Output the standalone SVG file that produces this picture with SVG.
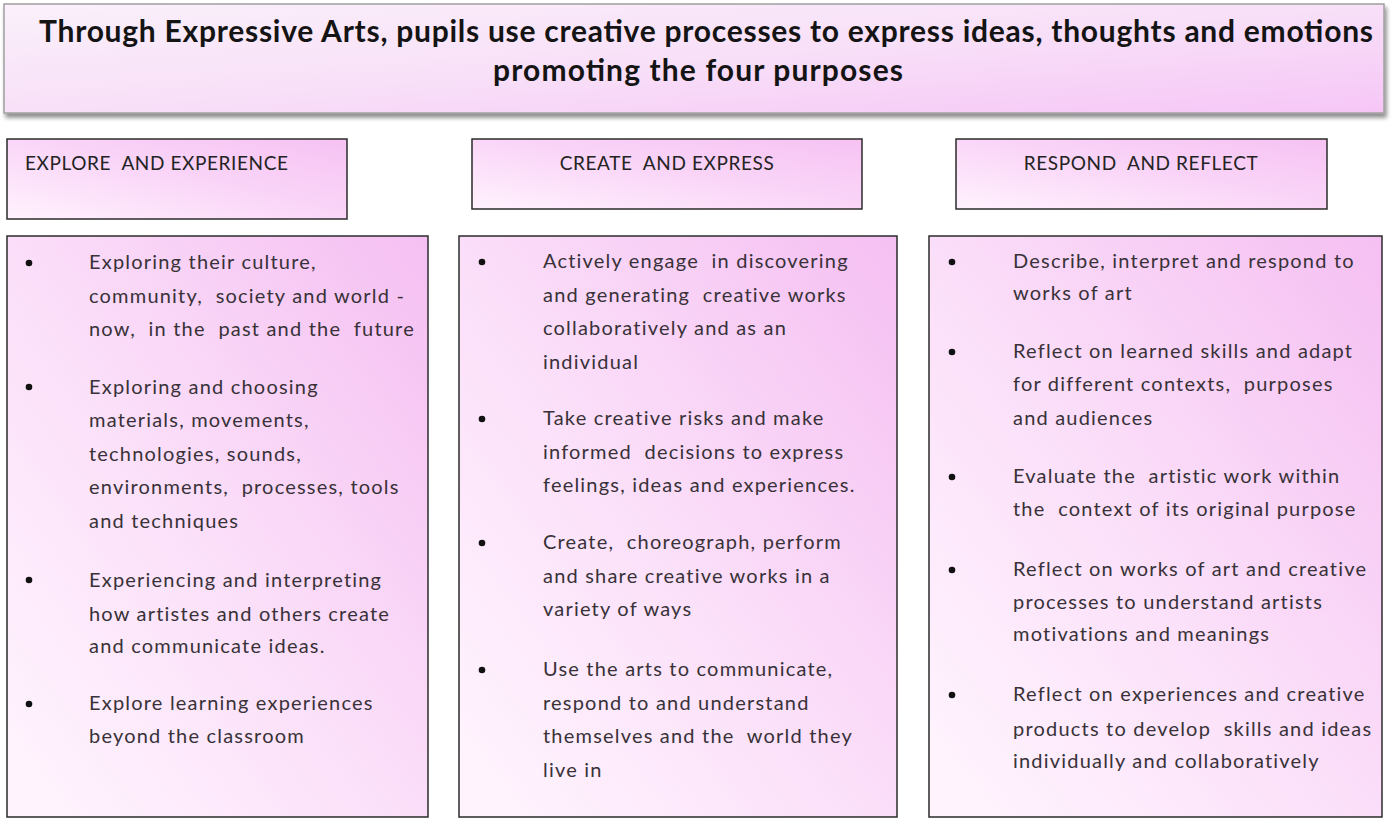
<svg xmlns="http://www.w3.org/2000/svg" width="1392" height="819" viewBox="0 0 1392 819">
<defs>
<linearGradient id="gTitle" x1="0" y1="0" x2="1" y2="1">
<stop offset="0" stop-color="#faf0fa"/>
<stop offset="0.5" stop-color="#f8e0f8"/>
<stop offset="1" stop-color="#f6c6f6"/>
</linearGradient>
<linearGradient id="gBox" x1="0.05" y1="0.95" x2="1" y2="0">
<stop offset="0" stop-color="#fff4fe"/>
<stop offset="0.45" stop-color="#fbdff9"/>
<stop offset="1" stop-color="#f5bff2"/>
</linearGradient>
<linearGradient id="gHead" x1="0" y1="1" x2="1" y2="0">
<stop offset="0" stop-color="#fff2fd"/>
<stop offset="0.5" stop-color="#fad6f8"/>
<stop offset="1" stop-color="#f6c2f3"/>
</linearGradient>
<filter id="shadow" x="-5%" y="-20%" width="110%" height="150%">
<feGaussianBlur in="SourceAlpha" stdDeviation="2"/>
<feOffset dx="2" dy="4" result="b"/>
<feComponentTransfer><feFuncA type="linear" slope="0.45"/></feComponentTransfer>
<feMerge><feMergeNode/><feMergeNode in="SourceGraphic"/></feMerge>
</filter>
</defs>
<style>
text{white-space:pre}
.title{font-family:Lato,"Liberation Sans",sans-serif;font-weight:bold;font-size:30px;fill:#141414;text-anchor:middle}
.head{font-family:Lato,"Liberation Sans",sans-serif;font-size:19px;letter-spacing:0.6px;fill:#232323}
.body{font-family:Lato,"Liberation Sans",sans-serif;font-size:20px;letter-spacing:1.2px;fill:#383238}
.box{fill:url(#gBox);stroke:#2b2b2b;stroke-width:1.5}
.hbox{fill:url(#gHead);stroke:#2b2b2b;stroke-width:1.5}
.dot{fill:#111}
</style>
<rect width="1392" height="819" fill="#ffffff"/>

<g id="title">
<rect x="4" y="4" width="1380" height="109" fill="url(#gTitle)" stroke="#a0a0a0" stroke-width="1.5" filter="url(#shadow)"/>
<text class="title" x="706" y="42" textLength="1334" lengthAdjust="spacing">Through Expressive Arts, pupils use creative processes to express ideas, thoughts and emotions</text>
<text class="title" x="698" y="81" textLength="410" lengthAdjust="spacing">promoting the four purposes</text>
</g>

<g id="head-explore">
<rect class="hbox" x="7" y="139" width="340" height="80"/>
<text class="head" x="25" y="170">EXPLORE  AND EXPERIENCE</text>
</g>
<g id="head-create">
<rect class="hbox" x="472" y="139" width="390" height="70"/>
<text class="head" x="667" y="170" text-anchor="middle">CREATE  AND EXPRESS</text>
</g>
<g id="head-respond">
<rect class="hbox" x="956" y="139" width="371" height="70"/>
<text class="head" x="1141" y="170" text-anchor="middle">RESPOND  AND REFLECT</text>
</g>

<g id="body-explore">
<rect class="box" x="7" y="236" width="421" height="581"/>
<circle class="dot" cx="29" cy="263" r="3.3"/>
<circle class="dot" cx="29" cy="387" r="3.3"/>
<circle class="dot" cx="29" cy="580" r="3.3"/>
<circle class="dot" cx="29" cy="704" r="3.3"/>
<text class="body" x="89" y="269">Exploring their culture,</text>
<text class="body" x="89" y="302.5">community,  society and world -</text>
<text class="body" x="89" y="336">now,  in the  past and the  future</text>
<text class="body" x="89" y="393.5">Exploring and choosing</text>
<text class="body" x="89" y="427">materials, movements,</text>
<text class="body" x="89" y="460.5">technologies, sounds,</text>
<text class="body" x="89" y="494">environments,  processes, tools</text>
<text class="body" x="89" y="527.5">and techniques</text>
<text class="body" x="89" y="587">Experiencing and interpreting</text>
<text class="body" x="89" y="620.5">how artistes and others create</text>
<text class="body" x="89" y="653">and communicate ideas.</text>
<text class="body" x="89" y="710">Explore learning experiences</text>
<text class="body" x="89" y="743">beyond the classroom</text>
</g>

<g id="body-create">
<rect class="box" x="459" y="236" width="438" height="581"/>
<circle class="dot" cx="482" cy="262" r="3.3"/>
<circle class="dot" cx="482" cy="419" r="3.3"/>
<circle class="dot" cx="482" cy="543" r="3.3"/>
<circle class="dot" cx="482" cy="670" r="3.3"/>
<text class="body" x="543" y="268">Actively engage  in discovering</text>
<text class="body" x="543" y="301.5">and generating  creative works</text>
<text class="body" x="543" y="335">collaboratively and as an</text>
<text class="body" x="543" y="368.5">individual</text>
<text class="body" x="543" y="425">Take creative risks and make</text>
<text class="body" x="543" y="458.5">informed  decisions to express</text>
<text class="body" x="543" y="492">feelings, ideas and experiences.</text>
<text class="body" x="543" y="549">Create,  choreograph, perform</text>
<text class="body" x="543" y="582.5">and share creative works in a</text>
<text class="body" x="543" y="616">variety of ways</text>
<text class="body" x="543" y="676">Use the arts to communicate,</text>
<text class="body" x="543" y="709.5">respond to and understand</text>
<text class="body" x="543" y="743">themselves and the  world they</text>
<text class="body" x="543" y="776.5">live in</text>
</g>

<g id="body-respond">
<rect class="box" x="929" y="236" width="453" height="581"/>
<circle class="dot" cx="952" cy="262" r="3.3"/>
<circle class="dot" cx="952" cy="352" r="3.3"/>
<circle class="dot" cx="952" cy="477" r="3.3"/>
<circle class="dot" cx="952" cy="570" r="3.3"/>
<circle class="dot" cx="952" cy="695" r="3.3"/>
<text class="body" x="1013" y="268">Describe, interpret and respond to</text>
<text class="body" x="1013" y="300">works of art</text>
<text class="body" x="1013" y="358">Reflect on learned skills and adapt</text>
<text class="body" x="1013" y="391">for different contexts,  purposes</text>
<text class="body" x="1013" y="425">and audiences</text>
<text class="body" x="1013" y="483">Evaluate the  artistic work within</text>
<text class="body" x="1013" y="516">the  context of its original purpose</text>
<text class="body" x="1013" y="576">Reflect on works of art and creative</text>
<text class="body" x="1013" y="609">processes to understand artists</text>
<text class="body" x="1013" y="641">motivations and meanings</text>
<text class="body" x="1013" y="701">Reflect on experiences and creative</text>
<text class="body" x="1013" y="736">products to develop  skills and ideas</text>
<text class="body" x="1013" y="768">individually and collaboratively</text>
</g>

<g id="connectors"></g>
</svg>
